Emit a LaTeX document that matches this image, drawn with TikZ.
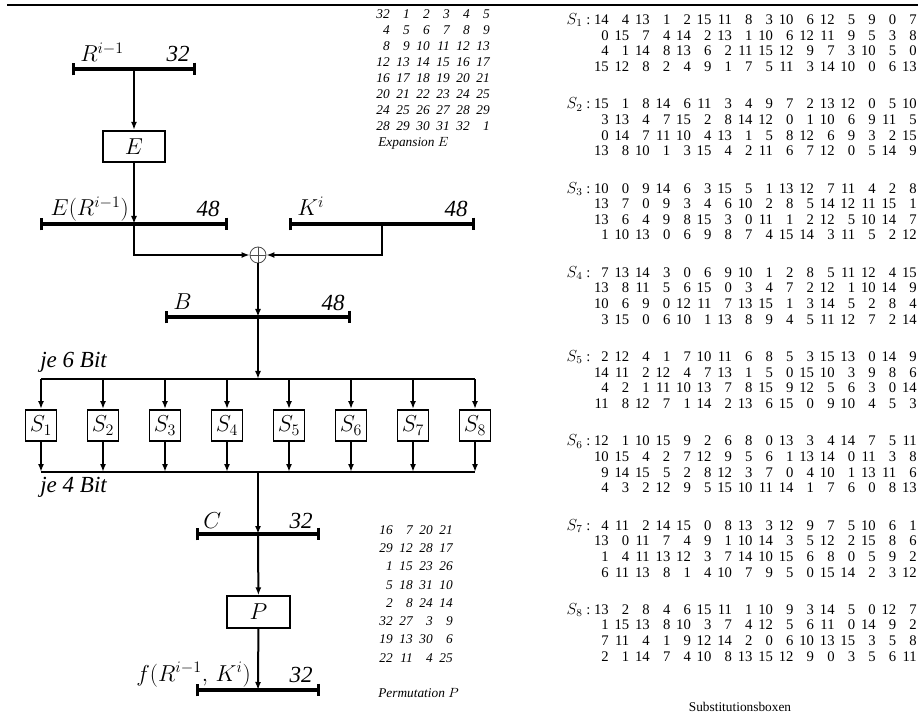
\documentclass[tikz,border=0pt]{standalone}
\usepackage[no-math]{fontspec}
\setmainfont{Liberation Serif}
\usepackage{tikz}
\usetikzlibrary{arrows.meta,positioning}
\newcommand{\labelsize}{\fontsize{17.28}{20}\selectfont}
\newcommand{\sname}[1]{{\fontsize{12}{14}\selectfont$S_{#1}$}\ :}
\tikzset{
  regbar/.style={line width=2.3pt,{Bar[width=9.5pt]}-{Bar[width=9.5pt]}},
  busline/.style={line width=2.1pt},
  flowarrow/.style={-{Latex[length=6pt,width=4.5pt]},line width=1.5pt},
  funcbox/.style={draw,line width=1.5pt,minimum width=47pt,minimum height=23.5pt,
    inner sep=0pt,font=\labelsize},
  sboxnode/.style={draw,line width=1.2pt,minimum width=23pt,minimum height=23.5pt,
    inner sep=0pt,font=\labelsize},
  regname/.style={anchor=base west,inner sep=0pt,font=\labelsize},
  regbits/.style={anchor=base east,inner sep=0pt,font=\labelsize\itshape},
  xorcirc/.style={circle,draw=black!70,line width=0.6pt,minimum size=12pt,inner sep=0pt},
  tabnode/.style={inner sep=0pt,font=\fontsize{10}{12}\selectfont},
}

\begin{document}
\begin{tikzpicture}[x=0.75pt,y=-0.75pt]
  \useasboundingbox (0,0) rectangle (924,716);
  \draw[line width=2pt] (7,5) -- (918,5);
  % R^{i-1} and expansion
  \coordinate (rL) at (72,69);
  \coordinate (rR) at (196,69);
  \coordinate (rtap) at (134,69);
  \draw[regbar] (rL) -- (rR);
  \node[regname] (rname) at (80,62) {$R^{i-1}$};
  \node[regbits] (rbits) at (190,62) {32};
  \node[funcbox] (ebox) at (134,146.5) {$E$};
  \draw[flowarrow] (rtap) -- (ebox);
  % E(R^{i-1}) and K^i
  \coordinate (eL) at (40,224);
  \coordinate (eR) at (228,224);
  \coordinate (etap) at (134,224);
  \draw[regbar] (eL) -- (eR);
  \node[regname,anchor=base east] (ename) at (129,216) {$E(R^{i-1})$};
  \node[regbits] (ebits) at (220,217) {48};
  \draw[flowarrow] (ebox) -- (etap);
  \coordinate (kL) at (289,224);
  \coordinate (kR) at (475,224);
  \coordinate (ktap) at (382,224);
  \draw[regbar] (kL) -- (kR);
  \node[regname] (kname) at (297,216) {$K^i$};
  \node[regbits] (kbits) at (468,217) {48};
  % xor
  \node[xorcirc] (xor) at (258,255) {};
  \draw[line width=0.6pt,black!70] (xor.north) -- (xor.south) (xor.west) -- (xor.east);
  \draw[flowarrow] (etap) |- (xor);
  \draw[flowarrow] (ktap) |- (xor);
  % B
  \coordinate (bL) at (165,317);
  \coordinate (bR) at (351,317);
  \coordinate (btap) at (258,317);
  \draw[regbar] (bL) -- (bR);
  \node[regname] (bname) at (173,310) {$B$};
  \node[regbits] (bbits) at (345,311) {48};
  \draw[flowarrow] (xor) -- (btap);
  % S-boxes
  \coordinate (sixL) at (41,379);
  \coordinate (sixR) at (475,379);
  \coordinate (six) at (258,379);
  \draw[busline] (sixL) -- (sixR);
  \draw[flowarrow] (btap) -- (six);
  \node[regname,font=\labelsize\itshape] (sixlbl) at (40,368) {je 6 Bit};
  \coordinate (fourL) at (41,472);
  \coordinate (fourR) at (475,472);
  \coordinate (four) at (258,472);
  \draw[busline] (fourL) -- (fourR);
  \node[regname,font=\labelsize\itshape] (fourlbl) at (40,492) {je 4 Bit};
  \foreach \k in {1,...,8} {
    \node[sboxnode] (s\k) at ({41+62*(\k-1)},425.5) {$S_{\k}$};
    \draw[flowarrow] (s\k |- six) -- (s\k);
    \draw[flowarrow] (s\k) -- (s\k |- four);
  }
  % C, P, f
  \coordinate (cL) at (196,534);
  \coordinate (cR) at (320,534);
  \coordinate (ctap) at (258,534);
  \draw[regbar] (cL) -- (cR);
  \node[regname] (cname) at (203,528) {$C$};
  \node[regbits] (cbits) at (313,528) {32};
  \draw[flowarrow] (four) -- (ctap);
  \node[funcbox] (pbox) at (258.5,612) {$P$};
  \draw[flowarrow] (ctap) -- (pbox);
  \coordinate (fL) at (196,690);
  \coordinate (fR) at (320,690);
  \coordinate (ftap) at (258,690);
  \draw[regbar] (fL) -- (fR);
  \node[regname,anchor=base east] (fname) at (251,681) {$f(R^{i-1},\,K^i)$};
  \node[regbits] (fbits) at (313,682) {32};
  \draw[flowarrow] (pbox) -- (ftap);
  % tables
  \node[tabnode,anchor=base east,font=\fontsize{10}{12}\selectfont\itshape] (etab) at (490,18.5) {%
    \renewcommand{\arraystretch}{1.0}%
    \begin{tabular}[t]{@{}*{5}{r@{\hspace{5pt}}}r@{}}
      32 & 1 & 2 & 3 & 4 & 5\\
      4 & 5 & 6 & 7 & 8 & 9\\
      8 & 9 & 10 & 11 & 12 & 13\\
      12 & 13 & 14 & 15 & 16 & 17\\
      16 & 17 & 18 & 19 & 20 & 21\\
      20 & 21 & 22 & 23 & 24 & 25\\
      24 & 25 & 26 & 27 & 28 & 29\\
      28 & 29 & 30 & 31 & 32 & 1
    \end{tabular}};
  \node[tabnode,anchor=base west] (ecap) at (378,147) {\itshape Expansion $E$};
  \node[tabnode,anchor=base east,font=\fontsize{10}{12}\selectfont\itshape] (ptab) at (453,534.5) {%
    \renewcommand{\arraystretch}{1.14}%
    \begin{tabular}[t]{@{}*{3}{r@{\hspace{5pt}}}r@{}}
      16 & 7 & 20 & 21\\
      29 & 12 & 28 & 17\\
      1 & 15 & 23 & 26\\
      5 & 18 & 31 & 10\\
      2 & 8 & 24 & 14\\
      32 & 27 & 3 & 9\\
      19 & 13 & 30 & 6\\
      22 & 11 & 4 & 25
    \end{tabular}};
  \node[tabnode,anchor=base west] (pcap) at (378,697) {\itshape Permutation $P$};
  \node[tabnode,anchor=base east,font=\fontsize{11}{12}\selectfont] (stab) at (917,24.5) {%
    \renewcommand{\arraystretch}{0.979}%
    \begin{tabular}[t]{@{}r@{\ }*{15}{r@{\hspace{4.4pt}}}r@{}}
      \sname{1} & 14 & 4 & 13 & 1 & 2 & 15 & 11 & 8 & 3 & 10 & 6 & 12 & 5 & 9 & 0 & 7\\
       & 0 & 15 & 7 & 4 & 14 & 2 & 13 & 1 & 10 & 6 & 12 & 11 & 9 & 5 & 3 & 8\\
       & 4 & 1 & 14 & 8 & 13 & 6 & 2 & 11 & 15 & 12 & 9 & 7 & 3 & 10 & 5 & 0\\
       & 15 & 12 & 8 & 2 & 4 & 9 & 1 & 7 & 5 & 11 & 3 & 14 & 10 & 0 & 6 & 13\\[16.2pt]
      \sname{2} & 15 & 1 & 8 & 14 & 6 & 11 & 3 & 4 & 9 & 7 & 2 & 13 & 12 & 0 & 5 & 10\\
       & 3 & 13 & 4 & 7 & 15 & 2 & 8 & 14 & 12 & 0 & 1 & 10 & 6 & 9 & 11 & 5\\
       & 0 & 14 & 7 & 11 & 10 & 4 & 13 & 1 & 5 & 8 & 12 & 6 & 9 & 3 & 2 & 15\\
       & 13 & 8 & 10 & 1 & 3 & 15 & 4 & 2 & 11 & 6 & 7 & 12 & 0 & 5 & 14 & 9\\[16.2pt]
      \sname{3} & 10 & 0 & 9 & 14 & 6 & 3 & 15 & 5 & 1 & 13 & 12 & 7 & 11 & 4 & 2 & 8\\
       & 13 & 7 & 0 & 9 & 3 & 4 & 6 & 10 & 2 & 8 & 5 & 14 & 12 & 11 & 15 & 1\\
       & 13 & 6 & 4 & 9 & 8 & 15 & 3 & 0 & 11 & 1 & 2 & 12 & 5 & 10 & 14 & 7\\
       & 1 & 10 & 13 & 0 & 6 & 9 & 8 & 7 & 4 & 15 & 14 & 3 & 11 & 5 & 2 & 12\\[16.2pt]
      \sname{4} & 7 & 13 & 14 & 3 & 0 & 6 & 9 & 10 & 1 & 2 & 8 & 5 & 11 & 12 & 4 & 15\\
       & 13 & 8 & 11 & 5 & 6 & 15 & 0 & 3 & 4 & 7 & 2 & 12 & 1 & 10 & 14 & 9\\
       & 10 & 6 & 9 & 0 & 12 & 11 & 7 & 13 & 15 & 1 & 3 & 14 & 5 & 2 & 8 & 4\\
       & 3 & 15 & 0 & 6 & 10 & 1 & 13 & 8 & 9 & 4 & 5 & 11 & 12 & 7 & 2 & 14\\[16.2pt]
      \sname{5} & 2 & 12 & 4 & 1 & 7 & 10 & 11 & 6 & 8 & 5 & 3 & 15 & 13 & 0 & 14 & 9\\
       & 14 & 11 & 2 & 12 & 4 & 7 & 13 & 1 & 5 & 0 & 15 & 10 & 3 & 9 & 8 & 6\\
       & 4 & 2 & 1 & 11 & 10 & 13 & 7 & 8 & 15 & 9 & 12 & 5 & 6 & 3 & 0 & 14\\
       & 11 & 8 & 12 & 7 & 1 & 14 & 2 & 13 & 6 & 15 & 0 & 9 & 10 & 4 & 5 & 3\\[16.2pt]
      \sname{6} & 12 & 1 & 10 & 15 & 9 & 2 & 6 & 8 & 0 & 13 & 3 & 4 & 14 & 7 & 5 & 11\\
       & 10 & 15 & 4 & 2 & 7 & 12 & 9 & 5 & 6 & 1 & 13 & 14 & 0 & 11 & 3 & 8\\
       & 9 & 14 & 15 & 5 & 2 & 8 & 12 & 3 & 7 & 0 & 4 & 10 & 1 & 13 & 11 & 6\\
       & 4 & 3 & 2 & 12 & 9 & 5 & 15 & 10 & 11 & 14 & 1 & 7 & 6 & 0 & 8 & 13\\[16.2pt]
      \sname{7} & 4 & 11 & 2 & 14 & 15 & 0 & 8 & 13 & 3 & 12 & 9 & 7 & 5 & 10 & 6 & 1\\
       & 13 & 0 & 11 & 7 & 4 & 9 & 1 & 10 & 14 & 3 & 5 & 12 & 2 & 15 & 8 & 6\\
       & 1 & 4 & 11 & 13 & 12 & 3 & 7 & 14 & 10 & 15 & 6 & 8 & 0 & 5 & 9 & 2\\
       & 6 & 11 & 13 & 8 & 1 & 4 & 10 & 7 & 9 & 5 & 0 & 15 & 14 & 2 & 3 & 12\\[16.2pt]
      \sname{8} & 13 & 2 & 8 & 4 & 6 & 15 & 11 & 1 & 10 & 9 & 3 & 14 & 5 & 0 & 12 & 7\\
       & 1 & 15 & 13 & 8 & 10 & 3 & 7 & 4 & 12 & 5 & 6 & 11 & 0 & 14 & 9 & 2\\
       & 7 & 11 & 4 & 1 & 9 & 12 & 14 & 2 & 0 & 6 & 10 & 13 & 15 & 3 & 5 & 8\\
       & 2 & 1 & 14 & 7 & 4 & 10 & 8 & 13 & 15 & 12 & 9 & 0 & 3 & 5 & 6 & 11
    \end{tabular}};
  \node[tabnode,anchor=base] (scap) at (740,711) {Substitutionsboxen};
\end{tikzpicture}
\end{document}
